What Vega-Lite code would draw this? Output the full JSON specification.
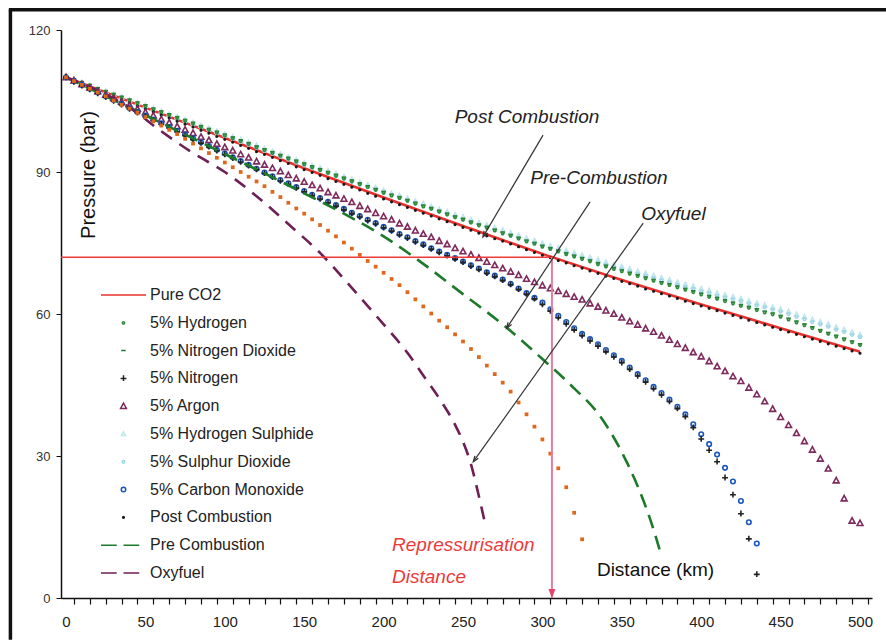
{
"$schema":"https://vega.github.io/schema/vega-lite/v6.json",
"width":811,"height":568,
"autosize":{"type":"none"},
"padding":{"left":61,"top":30,"right":14,"bottom":42},
"background":"white",
"config":{"view":{"stroke":null},"font":"Liberation Sans"},
"datasets":{
"names":[{"k":"pc","s":"Post Combustion"},{"k":"h2","s":"5% Hydrogen"},{"k":"no2","s":"5% Nitrogen Dioxide"},{"k":"n2","s":"5% Nitrogen"},{"k":"ar","s":"5% Argon"},{"k":"h2s","s":"5% Hydrogen Sulphide"},{"k":"so2","s":"5% Sulphur Dioxide"},{"k":"co","s":"5% Carbon Monoxide"}],
"lines":[
{"s":"Pure CO2","x":0,"y":110},{"s":"Pure CO2","x":50,"y":103.6},{"s":"Pure CO2","x":100,"y":97.2},{"s":"Pure CO2","x":150,"y":90.8},{"s":"Pure CO2","x":200,"y":84.6},{"s":"Pure CO2","x":250,"y":78.6},{"s":"Pure CO2","x":300,"y":72.7},{"s":"Pure CO2","x":350,"y":67.2},{"s":"Pure CO2","x":400,"y":62},{"s":"Pure CO2","x":450,"y":57},{"s":"Pure CO2","x":500,"y":52},
{"s":"Pre Combustion","x":0,"y":110},{"s":"Pre Combustion","x":25,"y":106},{"s":"Pre Combustion","x":50,"y":102},{"s":"Pre Combustion","x":75,"y":97.9},{"s":"Pre Combustion","x":100,"y":93.8},{"s":"Pre Combustion","x":125,"y":89.7},{"s":"Pre Combustion","x":150,"y":85.5},{"s":"Pre Combustion","x":175,"y":81.2},{"s":"Pre Combustion","x":200,"y":76.4},{"s":"Pre Combustion","x":225,"y":70.6},{"s":"Pre Combustion","x":250,"y":64.2},{"s":"Pre Combustion","x":275,"y":57.8},{"s":"Pre Combustion","x":300,"y":50.5},{"s":"Pre Combustion","x":320,"y":44.3},{"s":"Pre Combustion","x":335,"y":39},{"s":"Pre Combustion","x":350,"y":30.8},{"s":"Pre Combustion","x":360,"y":23.6},{"s":"Pre Combustion","x":368,"y":16.5},{"s":"Pre Combustion","x":374,"y":10},
{"s":"Oxyfuel","x":0,"y":110},{"s":"Oxyfuel","x":20,"y":107.2},{"s":"Oxyfuel","x":40,"y":103.6},{"s":"Oxyfuel","x":60,"y":98.6},{"s":"Oxyfuel","x":80,"y":94},{"s":"Oxyfuel","x":100,"y":90},{"s":"Oxyfuel","x":120,"y":84.9},{"s":"Oxyfuel","x":140,"y":79},{"s":"Oxyfuel","x":160,"y":72.9},{"s":"Oxyfuel","x":180,"y":65.5},{"s":"Oxyfuel","x":200,"y":57.8},{"s":"Oxyfuel","x":215,"y":51.8},{"s":"Oxyfuel","x":225,"y":47},{"s":"Oxyfuel","x":235,"y":42.2},{"s":"Oxyfuel","x":245,"y":36.6},{"s":"Oxyfuel","x":250,"y":33},{"s":"Oxyfuel","x":255,"y":28.3},{"s":"Oxyfuel","x":260,"y":21.5},{"s":"Oxyfuel","x":264,"y":15.6}
],
"m":[
{"x":0,"pc":110,"h2":110,"no2":110,"h2s":110,"so2":110,"ar":110,"co":110,"n2":110,"or":110},
{"x":5,"pc":109.1,"h2":109.4,"no2":109.7,"h2s":109.4,"so2":108.9,"ar":109.3,"co":109.2,"n2":109,"or":109.2},
{"x":10,"pc":108.4,"h2":108.8,"no2":109.1,"h2s":108.8,"so2":108.3,"ar":108.5,"co":108.4,"n2":108.2,"or":108.4},
{"x":15,"pc":107.8,"h2":108.2,"no2":108.5,"h2s":108.2,"so2":107.7,"ar":107.8,"co":107.6,"n2":107.4,"or":107.6},
{"x":20,"pc":107.1,"h2":107.5,"no2":107.8,"h2s":107.6,"so2":107.1,"ar":107,"co":106.8,"n2":106.6,"or":106.8},
{"x":25,"pc":106.5,"h2":106.9,"no2":107.2,"h2s":107,"so2":106.5,"ar":106.3,"co":106,"n2":105.8,"or":106},
{"x":30,"pc":105.9,"h2":106.3,"no2":106.6,"h2s":106.4,"so2":105.9,"ar":105.6,"co":105.2,"n2":105,"or":105.1},
{"x":35,"pc":105.2,"h2":105.7,"no2":106,"h2s":105.8,"so2":105.3,"ar":104.8,"co":104.4,"n2":104.2,"or":104.2},
{"x":40,"pc":104.6,"h2":105.1,"no2":105.4,"h2s":105.2,"so2":104.7,"ar":104.1,"co":103.5,"n2":103.3,"or":103.4},
{"x":45,"pc":103.9,"h2":104.5,"no2":104.8,"h2s":104.6,"so2":104.1,"ar":103.3,"co":102.7,"n2":102.5,"or":102.5},
{"x":50,"pc":103.3,"h2":103.9,"no2":104.2,"h2s":104,"so2":103.5,"ar":102.6,"co":101.9,"n2":101.7,"or":101.6},
{"x":55,"pc":102.7,"h2":103.2,"no2":103.5,"h2s":103.4,"so2":102.9,"ar":101.9,"co":101.1,"n2":100.9,"or":100.7},
{"x":60,"pc":102,"h2":102.6,"no2":102.9,"h2s":102.8,"so2":102.3,"ar":101.1,"co":100.3,"n2":100.1,"or":99.8},
{"x":65,"pc":101.4,"h2":102,"no2":102.3,"h2s":102.2,"so2":101.7,"ar":100.4,"co":99.5,"n2":99.3,"or":98.9},
{"x":70,"pc":100.7,"h2":101.4,"no2":101.7,"h2s":101.6,"so2":101.1,"ar":99.6,"co":98.7,"n2":98.5,"or":98},
{"x":75,"pc":100.1,"h2":100.8,"no2":101.1,"h2s":101,"so2":100.5,"ar":98.9,"co":97.9,"n2":97.7,"or":97},
{"x":80,"pc":99.5,"h2":100.2,"no2":100.5,"h2s":100.4,"so2":99.9,"ar":98.2,"co":97.1,"n2":96.9,"or":96},
{"x":85,"pc":98.8,"h2":99.5,"no2":99.8,"h2s":99.8,"so2":99.3,"ar":97.4,"co":96.3,"n2":96.1,"or":95},
{"x":90,"pc":98.2,"h2":98.9,"no2":99.2,"h2s":99.2,"so2":98.7,"ar":96.7,"co":95.5,"n2":95.3,"or":94},
{"x":95,"pc":97.5,"h2":98.3,"no2":98.6,"h2s":98.6,"so2":98.1,"ar":95.9,"co":94.7,"n2":94.5,"or":93},
{"x":100,"pc":96.9,"h2":97.7,"no2":98,"h2s":98,"so2":97.5,"ar":95.2,"co":93.9,"n2":93.7,"or":92},
{"x":105,"pc":96.3,"h2":97.1,"no2":97.4,"h2s":97.4,"so2":96.9,"ar":94.5,"co":93.1,"n2":92.9,"or":91},
{"x":110,"pc":95.6,"h2":96.5,"no2":96.8,"h2s":96.8,"so2":96.3,"ar":93.7,"co":92.3,"n2":92.1,"or":90},
{"x":115,"pc":95,"h2":95.9,"no2":96.2,"h2s":96.2,"so2":95.7,"ar":93,"co":91.5,"n2":91.3,"or":89},
{"x":120,"pc":94.3,"h2":95.2,"no2":95.5,"h2s":95.6,"so2":95.1,"ar":92.2,"co":90.7,"n2":90.5,"or":88},
{"x":125,"pc":93.7,"h2":94.6,"no2":94.9,"h2s":94.9,"so2":94.4,"ar":91.5,"co":89.9,"n2":89.7,"or":87},
{"x":130,"pc":93.1,"h2":94,"no2":94.3,"h2s":94.3,"so2":93.8,"ar":90.8,"co":89.1,"n2":88.9,"or":85.8},
{"x":135,"pc":92.4,"h2":93.4,"no2":93.7,"h2s":93.7,"so2":93.2,"ar":90.1,"co":88.3,"n2":88.1,"or":84.7},
{"x":140,"pc":91.8,"h2":92.8,"no2":93.1,"h2s":93.1,"so2":92.6,"ar":89.3,"co":87.6,"n2":87.4,"or":83.5},
{"x":145,"pc":91.1,"h2":92.2,"no2":92.5,"h2s":92.5,"so2":92,"ar":88.6,"co":86.8,"n2":86.6,"or":82.3},
{"x":150,"pc":90.5,"h2":91.6,"no2":91.9,"h2s":91.9,"so2":91.4,"ar":87.9,"co":86,"n2":85.8,"or":81.2},
{"x":155,"pc":89.9,"h2":91,"no2":91.3,"h2s":91.3,"so2":90.8,"ar":87.2,"co":85.2,"n2":85,"or":80},
{"x":160,"pc":89.3,"h2":90.4,"no2":90.7,"h2s":90.8,"so2":90.3,"ar":86.5,"co":84.5,"n2":84.3,"or":78.8},
{"x":165,"pc":88.6,"h2":89.8,"no2":90.1,"h2s":90.2,"so2":89.7,"ar":85.7,"co":83.7,"n2":83.5,"or":77.6},
{"x":170,"pc":88,"h2":89.2,"no2":89.5,"h2s":89.6,"so2":89.1,"ar":85,"co":83,"n2":82.8,"or":76.4},
{"x":175,"pc":87.4,"h2":88.6,"no2":88.9,"h2s":89,"so2":88.5,"ar":84.3,"co":82.2,"n2":82,"or":75.1},
{"x":180,"pc":86.8,"h2":88,"no2":88.3,"h2s":88.4,"so2":87.9,"ar":83.6,"co":81.4,"n2":81.2,"or":73.8},
{"x":185,"pc":86.2,"h2":87.4,"no2":87.7,"h2s":87.8,"so2":87.3,"ar":82.8,"co":80.7,"n2":80.5,"or":72.5},
{"x":190,"pc":85.5,"h2":86.8,"no2":87.1,"h2s":87.3,"so2":86.8,"ar":82.1,"co":79.9,"n2":79.7,"or":71.2},
{"x":195,"pc":84.9,"h2":86.2,"no2":86.5,"h2s":86.7,"so2":86.2,"ar":81.3,"co":79.2,"n2":79,"or":70},
{"x":200,"pc":84.3,"h2":85.6,"no2":85.9,"h2s":86.1,"so2":85.6,"ar":80.6,"co":78.4,"n2":78.2,"or":68.7},
{"x":205,"pc":83.7,"h2":85,"no2":85.3,"h2s":85.5,"so2":85,"ar":79.9,"co":77.7,"n2":77.5,"or":67.4},
{"x":210,"pc":83.1,"h2":84.5,"no2":84.8,"h2s":85,"so2":84.5,"ar":79.1,"co":76.9,"n2":76.7,"or":66.1},
{"x":215,"pc":82.5,"h2":83.9,"no2":84.2,"h2s":84.4,"so2":83.9,"ar":78.4,"co":76.2,"n2":76,"or":64.6},
{"x":220,"pc":81.9,"h2":83.3,"no2":83.6,"h2s":83.8,"so2":83.3,"ar":77.6,"co":75.4,"n2":75.2,"or":63.1},
{"x":225,"pc":81.3,"h2":82.7,"no2":83,"h2s":83.3,"so2":82.8,"ar":76.9,"co":74.7,"n2":74.5,"or":61.6},
{"x":230,"pc":80.7,"h2":82.2,"no2":82.5,"h2s":82.7,"so2":82.2,"ar":76.2,"co":73.9,"n2":73.7,"or":60.1},
{"x":235,"pc":80.1,"h2":81.6,"no2":81.9,"h2s":82.1,"so2":81.6,"ar":75.4,"co":73.2,"n2":73,"or":58.6},
{"x":240,"pc":79.5,"h2":81,"no2":81.3,"h2s":81.6,"so2":81.1,"ar":74.7,"co":72.5,"n2":72.3,"or":57.2},
{"x":245,"pc":78.9,"h2":80.4,"no2":80.7,"h2s":81,"so2":80.5,"ar":73.9,"co":71.8,"n2":71.6,"or":55.7},
{"x":250,"pc":78.3,"h2":79.9,"no2":80.2,"h2s":80.5,"so2":80,"ar":73.2,"co":71.1,"n2":70.9,"or":54.2},
{"x":255,"pc":77.7,"h2":79.3,"no2":79.6,"h2s":79.9,"so2":79.4,"ar":72.5,"co":70.3,"n2":70.1,"or":52.6},
{"x":260,"pc":77.1,"h2":78.7,"no2":79,"h2s":79.3,"so2":78.8,"ar":71.8,"co":69.6,"n2":69.4,"or":50.9},
{"x":265,"pc":76.5,"h2":78.2,"no2":78.5,"h2s":78.8,"so2":78.3,"ar":71,"co":68.8,"n2":68.6,"or":49.1},
{"x":270,"pc":75.9,"h2":77.6,"no2":77.9,"h2s":78.2,"so2":77.7,"ar":70.3,"co":68.1,"n2":67.9,"or":47.3},
{"x":275,"pc":75.4,"h2":77,"no2":77.3,"h2s":77.7,"so2":77.2,"ar":69.6,"co":67.3,"n2":67.1,"or":45.5},
{"x":280,"pc":74.8,"h2":76.5,"no2":76.8,"h2s":77.1,"so2":76.6,"ar":68.9,"co":66.4,"n2":66.2,"or":43.6},
{"x":285,"pc":74.2,"h2":75.9,"no2":76.2,"h2s":76.6,"so2":76.1,"ar":68.2,"co":65.4,"n2":65.2,"or":41.3},
{"x":290,"pc":73.6,"h2":75.3,"no2":75.6,"h2s":76,"so2":75.5,"ar":67.4,"co":64.4,"n2":64.2,"or":38.8},
{"x":295,"pc":73,"h2":74.8,"no2":75.1,"h2s":75.5,"so2":75,"ar":66.7,"co":63.4,"n2":63.2,"or":36.2},
{"x":300,"pc":72.4,"h2":74.2,"no2":74.5,"h2s":74.9,"so2":74.4,"ar":66,"co":62.4,"n2":62,"or":33.5},
{"x":305,"pc":71.9,"h2":73.7,"no2":74,"h2s":74.4,"so2":73.9,"ar":65.4,"co":61,"n2":60.6,"or":30.5},
{"x":310,"pc":71.3,"h2":73.2,"no2":73.5,"h2s":73.9,"so2":73.4,"ar":64.8,"co":59.6,"n2":59.2,"or":27.4},
{"x":315,"pc":70.8,"h2":72.6,"no2":72.9,"h2s":73.4,"so2":72.9,"ar":64.2,"co":58.3,"n2":57.9,"or":23.4},
{"x":320,"pc":70.2,"h2":72.1,"no2":72.4,"h2s":72.9,"so2":72.4,"ar":63.6,"co":57,"n2":56.6,"or":18},
{"x":325,"pc":69.7,"h2":71.6,"no2":71.9,"h2s":72.4,"so2":71.9,"ar":63,"co":55.8,"n2":55.4,"or":12.4},
{"x":330,"pc":69.1,"h2":71.1,"no2":71.4,"h2s":71.9,"so2":71.4,"ar":62.2,"co":54.7,"n2":54.3},
{"x":335,"pc":68.6,"h2":70.5,"no2":70.8,"h2s":71.4,"so2":70.9,"ar":61.5,"co":53.6,"n2":53.2},
{"x":340,"pc":68,"h2":70,"no2":70.3,"h2s":70.9,"so2":70.4,"ar":60.7,"co":52.4,"n2":52},
{"x":345,"pc":67.5,"h2":69.5,"no2":69.8,"h2s":70.4,"so2":69.9,"ar":60,"co":51.3,"n2":50.9},
{"x":350,"pc":66.9,"h2":69,"no2":69.3,"h2s":70,"so2":69.5,"ar":59.2,"co":50.1,"n2":49.7},
{"x":355,"pc":66.4,"h2":68.5,"no2":68.8,"h2s":69.5,"so2":69,"ar":58.4,"co":48.7,"n2":48.3},
{"x":360,"pc":65.9,"h2":68,"no2":68.3,"h2s":69,"so2":68.5,"ar":57.7,"co":47.3,"n2":46.9},
{"x":365,"pc":65.3,"h2":67.5,"no2":67.8,"h2s":68.6,"so2":68.1,"ar":56.9,"co":46,"n2":45.6},
{"x":370,"pc":64.8,"h2":67,"no2":67.3,"h2s":68.1,"so2":67.6,"ar":56.2,"co":44.6,"n2":44.2},
{"x":375,"pc":64.3,"h2":66.5,"no2":66.8,"h2s":67.6,"so2":67.1,"ar":55.4,"co":43.3,"n2":42.9},
{"x":380,"pc":63.8,"h2":66.1,"no2":66.4,"h2s":67.2,"so2":66.7,"ar":54.5,"co":41.9,"n2":41.5},
{"x":385,"pc":63.3,"h2":65.6,"no2":65.9,"h2s":66.7,"so2":66.2,"ar":53.6,"co":40.4,"n2":40},
{"x":390,"pc":62.7,"h2":65.1,"no2":65.4,"h2s":66.2,"so2":65.7,"ar":52.8,"co":38.8,"n2":38.3},
{"x":395,"pc":62.2,"h2":64.6,"no2":64.9,"h2s":65.8,"so2":65.3,"ar":51.9,"co":36.7,"n2":36},
{"x":400,"pc":61.7,"h2":64.1,"no2":64.4,"h2s":65.3,"so2":64.8,"ar":51,"co":34.6,"n2":33.6},
{"x":405,"pc":61.2,"h2":63.6,"no2":63.9,"h2s":64.9,"so2":64.4,"ar":50,"co":32.5,"n2":31.2},
{"x":410,"pc":60.7,"h2":63.2,"no2":63.5,"h2s":64.4,"so2":63.9,"ar":48.9,"co":30.3,"n2":28.8},
{"x":415,"pc":60.2,"h2":62.7,"no2":63,"h2s":64,"so2":63.5,"ar":47.9,"co":27.5,"n2":25.4},
{"x":420,"pc":59.7,"h2":62.2,"no2":62.5,"h2s":63.6,"so2":63.1,"ar":46.8,"co":24.6,"n2":21.8},
{"x":425,"pc":59.2,"h2":61.7,"no2":62,"h2s":63.2,"so2":62.7,"ar":45.8,"co":20.5,"n2":17.8},
{"x":430,"pc":58.7,"h2":61.3,"no2":61.6,"h2s":62.7,"so2":62.2,"ar":44.4,"co":16,"n2":12.5},
{"x":435,"pc":58.2,"h2":60.8,"no2":61.1,"h2s":62.3,"so2":61.8,"ar":43,"co":11.5,"n2":5},
{"x":440,"pc":57.7,"h2":60.3,"no2":60.6,"h2s":61.9,"so2":61.4,"ar":41.5},
{"x":445,"pc":57.2,"h2":59.9,"no2":60.2,"h2s":61.4,"so2":60.9,"ar":39.9},
{"x":450,"pc":56.7,"h2":59.4,"no2":59.7,"h2s":61,"so2":60.5,"ar":38.2},
{"x":455,"pc":56.2,"h2":58.8,"no2":59.1,"h2s":60.5,"so2":60,"ar":36.5},
{"x":460,"pc":55.7,"h2":58.2,"no2":58.5,"h2s":59.9,"so2":59.4,"ar":34.8},
{"x":465,"pc":55.2,"h2":57.6,"no2":57.9,"h2s":59.4,"so2":58.9,"ar":33.1},
{"x":470,"pc":54.7,"h2":57,"no2":57.3,"h2s":58.8,"so2":58.3,"ar":31.3},
{"x":475,"pc":54.2,"h2":56.4,"no2":56.7,"h2s":58.3,"so2":57.8,"ar":29.4},
{"x":480,"pc":53.7,"h2":55.8,"no2":56.1,"h2s":57.8,"so2":57.3,"ar":27.3},
{"x":485,"pc":53.2,"h2":55.2,"no2":55.5,"h2s":57.2,"so2":56.7,"ar":24.8},
{"x":490,"pc":52.7,"h2":54.6,"no2":54.9,"h2s":56.7,"so2":56.2,"ar":21},
{"x":495,"pc":52.2,"h2":54,"no2":54.3,"h2s":56.1,"so2":55.6,"ar":16.3},
{"x":500,"pc":51.7,"h2":53.4,"no2":53.7,"h2s":55.6,"so2":55.1,"ar":15.8}
]
},
"encoding":{
"x":{"field":"x","type":"quantitative","title":"Distance (km)",
 "scale":{"domain":[-3.15,507.55],"nice":false,"zero":false},
 "axis":{"values":[0,10,20,30,40,50,60,70,80,90,100,110,120,130,140,150,160,170,180,190,200,210,220,230,240,250,260,270,280,290,300,310,320,330,340,350,360,370,380,390,400,410,420,430,440,450,460,470,480,490,500],
  "labelExpr":"datum.value % 50 === 0 ? datum.label : ''","tickOffset":7.94,"labelOffset":-7.94,"grid":false,
  "tickSize":6,"tickColor":"#111","tickWidth":1.2,"domainColor":"#111","domainWidth":1.5,
  "labelFontSize":15,"labelColor":"#222","labelPadding":10,"labelFont":"Liberation Sans","labelFlush":false,"labelOverlap":false,
  "titleX":594,"titleY":-23,"titleFontSize":19,"titleFontWeight":"normal","titleColor":"#111","titleBaseline":"alphabetic","titleAlign":"center","titleFont":"Liberation Sans"}},
"y":{"field":"y","type":"quantitative","title":"Pressure (bar)",
 "scale":{"domain":[0,120],"nice":false,"zero":false},
 "axis":{"values":[0,30,60,90,120],"grid":false,"tickSize":5,"tickColor":"#111","domainColor":"#111","domainWidth":1.5,
  "labelFontSize":13,"labelColor":"#333","labelPadding":6,"labelFont":"Liberation Sans",
  "titleX":27,"titleY":144.5,"titleAngle":-90,"titleAlign":"center","titleBaseline":"middle","titleFontSize":20,"titleFontWeight":"normal","titleColor":"#111","titleFont":"Liberation Sans"}}
},
"layer":[
{"data":{"values":[{"x":-35,"y":124.3,"y2":-8.8}]},
 "mark":{"type":"rule","color":"#111","strokeWidth":3.5},
 "encoding":{"y2":{"field":"y2"}}},
{"data":{"values":[{"x":-36,"x2":516.4,"y":124.3}]},
 "mark":{"type":"rule","color":"#111","strokeWidth":3.5},
 "encoding":{"x2":{"field":"x2"}}},
{"data":{"name":"lines"},"transform":[{"filter":"datum.s === 'Pure CO2'"}],
 "mark":{"type":"line","color":"#e8302c","strokeWidth":2.6,"interpolate":"monotone"},"encoding":{}},
{"data":{"name":"m"},
 "transform":[{"fold":["h2s","so2","no2","h2","pc","ar","co","n2"],"as":["k","y"]},{"filter":"isValid(datum.y)"},
  {"lookup":"k","from":{"data":{"name":"names"},"key":"k","fields":["s"]}}],
 "mark":{"type":"point","filled":false,"size":2025,"strokeWidth":1.6,"opacity":1},
 "encoding":{
  "color":{"field":"s","type":"nominal",
   "scale":{"domain":["Pure CO2","5% Hydrogen","5% Nitrogen Dioxide","5% Nitrogen","5% Argon","5% Hydrogen Sulphide","5% Sulphur Dioxide","5% Carbon Monoxide","Post Combustion","Pre Combustion","Oxyfuel"],
    "range":["#e8302c","#2e8b3a","#1f7a2e","#222222","#7e2a5c","#bfe6ee","#9fd6e4","#1a56bd","#1a1a1a","#1c7a2a","#6e1f55"]},
   "legend":{"orient":"none","legendX":39,"legendY":255,"title":null,"symbolSize":2025,"clipHeight":20,"rowPadding":7.8,"labelOffset":3,"labelFontSize":16,"labelColor":"#222","labelFont":"Liberation Sans","labelLimit":400,"symbolStrokeWidth":1.5,"padding":0,
    "encode":{"symbols":{"update":{"strokeWidth":{"signal":"indexof(['Pure CO2','Pre Combustion','Oxyfuel'], datum.value) >= 0 ? 3.5 : 1.6"},"fill":{"signal":"datum.value === '5% Carbon Monoxide' ? '#1d5fc4' : 'transparent'"}}}}}},
  "shape":{"field":"s","type":"nominal",
   "scale":{"domain":["Pure CO2","5% Hydrogen","5% Nitrogen Dioxide","5% Nitrogen","5% Argon","5% Hydrogen Sulphide","5% Sulphur Dioxide","5% Carbon Monoxide","Post Combustion","Pre Combustion","Oxyfuel"],
    "range":["M-1,0H1","M0.05,0A0.05,0.05,0,1,1,-0.05,0A0.05,0.05,0,1,1,0.05,0Z","M-0.1,0H0.1","M-0.13,0H0.13M0,-0.14V0.12","M0,-0.14L0.13,0.1H-0.13Z","M0,-0.1L0.09,0.07H-0.09Z","M0.06,0A0.06,0.06,0,1,1,-0.06,0A0.06,0.06,0,1,1,0.06,0Z","M0.1,0A0.1,0.1,0,1,1,-0.1,0A0.1,0.1,0,1,1,0.1,0Z","M0.035,0A0.035,0.035,0,1,1,-0.035,0A0.035,0.035,0,1,1,0.035,0Z","M-1,0H-0.3M0,0H0.7","M-1,0H-0.3M0,0H0.7"]},
   "legend":{"orient":"none","legendX":39,"legendY":255,"title":null,"symbolSize":2025,"clipHeight":20,"rowPadding":7.8,"labelOffset":3,"labelFontSize":16,"labelColor":"#222","labelFont":"Liberation Sans","labelLimit":400,"symbolStrokeWidth":1.5,"padding":0,
    "encode":{"symbols":{"update":{"strokeWidth":{"signal":"indexof(['Pure CO2','Pre Combustion','Oxyfuel'], datum.value) >= 0 ? 3.5 : 1.6"},"fill":{"signal":"datum.value === '5% Carbon Monoxide' ? '#1d5fc4' : 'transparent'"}}}}}}
 }},
{"data":{"name":"lines"},"transform":[{"filter":"datum.s === 'Pre Combustion'"}],
 "mark":{"type":"line","color":"#1c7a2a","strokeWidth":2.6,"strokeDash":[14,8],"interpolate":"monotone"},"encoding":{}},
{"data":{"name":"lines"},"transform":[{"filter":"datum.s === 'Oxyfuel'"}],
 "mark":{"type":"line","color":"#6e1f55","strokeWidth":2.6,"strokeDash":[13,9],"interpolate":"monotone"},"encoding":{}},
{"data":{"name":"m"},"transform":[{"fold":["or"],"as":["k","y"]},{"filter":"isValid(datum.y)"}],
 "mark":{"type":"point","shape":"square","filled":true,"size":14,"color":"#e0661c","opacity":1}},
{"data":{"values":[{"x":-3.15,"x2":306,"y":72}]},
 "mark":{"type":"rule","color":"#f03a3a","strokeWidth":1.5},"encoding":{"x2":{"field":"x2"}}},
{"data":{"values":[{"x":306,"y":72,"y2":0}]},
 "mark":{"type":"rule","color":"#e47d9e","strokeWidth":2},"encoding":{"y2":{"field":"y2"}}},
{"data":{"values":[{"x":306,"y":0}]},
 "mark":{"type":"point","shape":"M-1,-2.6L0,0L1,-2.6Z","size":49,"filled":true,"color":"#e8406a","opacity":1}},
{"data":{"values":[{"x":300.4,"y":97.8,"x2":262.6,"y2":76.3},{"x":330,"y":83.7,"x2":277.5,"y2":57},{"x":363.5,"y":79.2,"x2":256.5,"y2":28.8}]},
 "mark":{"type":"rule","color":"#333","strokeWidth":1.2},"encoding":{"x2":{"field":"x2"},"y2":{"field":"y2"}}},
{"data":{"values":[{"x":262.6,"y":76.3}]},
 "mark":{"type":"point","shape":"M-0.7,1.9L0,0L0.7,1.9","size":36,"filled":false,"strokeWidth":1.3,"color":"#333","angle":210.5,"opacity":1}},
{"data":{"values":[{"x":277.5,"y":57}]},
 "mark":{"type":"point","shape":"M-0.7,1.9L0,0L0.7,1.9","size":36,"filled":false,"strokeWidth":1.3,"color":"#333","angle":213.3,"opacity":1}},
{"data":{"values":[{"x":256.5,"y":28.8}]},
 "mark":{"type":"point","shape":"M-0.7,1.9L0,0L0.7,1.9","size":36,"filled":false,"strokeWidth":1.3,"color":"#333","angle":215.5,"opacity":1}},
{"data":{"values":[{"t":"Post Combustion","x":290.3,"y":101.6},{"t":"Pre-Combustion","x":335.6,"y":88.7},{"t":"Oxyfuel","x":382.5,"y":81.1}]},
 "mark":{"type":"text","fontStyle":"italic","fontSize":19,"color":"#222","align":"center","baseline":"middle","font":"Liberation Sans"},
 "encoding":{"text":{"field":"t"}}},
{"data":{"values":[{"t":"Repressurisation","x":205.3,"y":9.9},{"t":"Distance","x":205.3,"y":3.2}]},
 "mark":{"type":"text","fontStyle":"italic","fontSize":19,"color":"#ec3a3a","align":"left","baseline":"alphabetic","font":"Liberation Sans"},
 "encoding":{"text":{"field":"t"}}}
]
}
